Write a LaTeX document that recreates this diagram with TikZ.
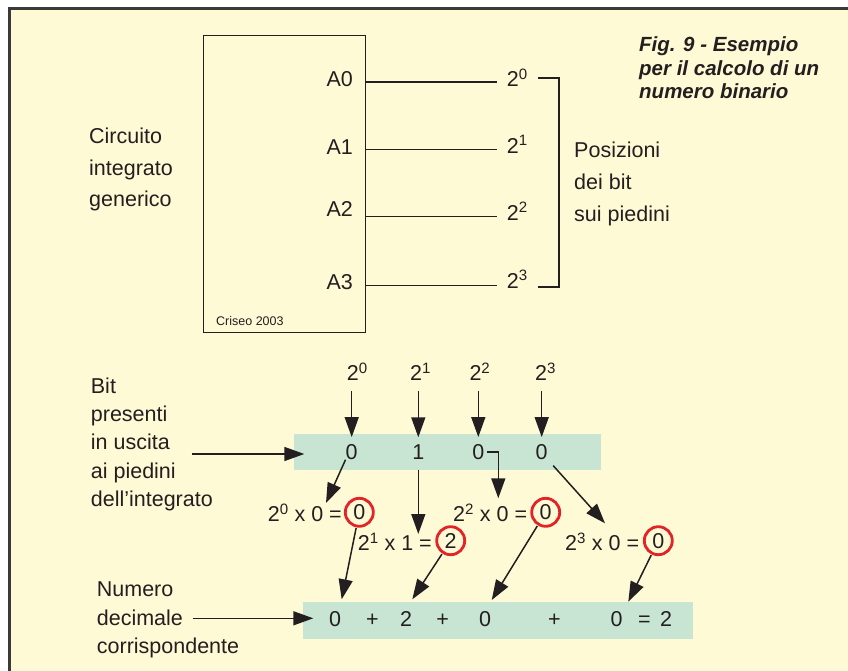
\documentclass[tikz,border=0pt]{standalone}
\usepackage{fontspec}
\setmainfont{Liberation Sans}
\usetikzlibrary{positioning, calc, arrows.meta}

\definecolor{paper}{RGB}{255,250,214}
\definecolor{frameline}{RGB}{58,58,58}
\definecolor{ink}{RGB}{35,31,32}
\definecolor{bandfill}{RGB}{200,229,212}
\definecolor{ringred}{RGB}{226,35,40}

\begin{document}
\begin{tikzpicture}[
  x=1pt, y=-1pt,
  text=ink,
  font=\fontsize{21.5}{28}\selectfont,
  label/.style={inner sep=0pt, align=left},
  wire/.style={draw=ink, line width=1.4pt},
  arr/.style={draw=ink, line width=1.5pt, -{Triangle[length=20pt, width=14pt]}},
  drop/.style={arr, shorten <=10pt, shorten >=7pt},
  band/.style={fill=bandfill, inner sep=0pt, anchor=north west},
  digit/.style={inner sep=0pt, anchor=base},
  result/.style={
    circle,
    draw=ringred,
    line width=2.8pt,
    minimum size=28pt,
    inner sep=0pt,
    outer sep=2pt,
  },
]
\useasboundingbox (0,0) rectangle (848,671);
% --- Frame ---
\fill[paper] (9.5,8.5) rectangle (850,673);
\draw[frameline, line width=3pt] (9.5,673) -- (9.5,8.5) -- (850,8.5);

% --- Chip ---
\node[draw=ink, line width=1.3pt, minimum width=162, minimum height=297,
      anchor=north west, inner sep=0pt] (Chip) at (203,35) {};
\node[inner sep=0pt, anchor=base west, font=\fontsize{12.5}{15}\selectfont]
  (Credit) at (216,325) {Criseo 2003};
% base of a multi-line label = its last line
\node[label, anchor=base west, font=\fontsize{21.5}{31.5}\selectfont]
  (ChipText) at (89,207) {Circuito\\integrato\\generico};

% pin names and bit weights
\node[digit, anchor=base east] (A0) at (353,86.7) {A0};
\node[digit, anchor=base east] (A1) at (353,155) {A1};
\node[digit, anchor=base east] (A2) at (353,216.7) {A2};
\node[digit, anchor=base east] (A3) at (353,289.3) {A3};
\node[digit, anchor=base west] (W0) at (506.7,86.7) {2\textsuperscript{0}};
\node[digit, anchor=base west] (W1) at (506.7,153.3) {2\textsuperscript{1}};
\node[digit, anchor=base west] (W2) at (506.7,220) {2\textsuperscript{2}};
\node[digit, anchor=base west] (W3) at (506.7,288.3) {2\textsuperscript{3}};
\coordinate (Pin0) at (496.7,82);
\coordinate (Pin1) at (496.7,149.3);
\coordinate (Pin2) at (496.7,216.7);
\coordinate (Pin3) at (496.7,285.7);
\draw[wire] (Pin0 -| Chip.east) -- (Pin0);
\draw[wire] (Pin1 -| Chip.east) -- (Pin1);
\draw[wire] (Pin2 -| Chip.east) -- (Pin2);
\draw[wire] (Pin3 -| Chip.east) -- (Pin3);

% bracket round the weights
\coordinate (BracketTop) at (538,78);
\coordinate (BracketBot) at (538,287);
\draw[wire] (BracketTop) -- ++(21,0) |- (BracketBot);
\node[label, anchor=base west, font=\fontsize{21.5}{31.5}\selectfont]
  (PosText) at (574,221) {Posizioni\\dei bit\\sui piedini};

% --- Caption ---
\node[label, anchor=base west, font=\fontsize{20.5}{23.5}\selectfont\bfseries\itshape]
  (Caption) at (639,98.7) {Fig. 9 - Esempio\\per il calcolo di un\\numero binario};

% --- Bits on the pins ---
\node[label, anchor=base west, font=\fontsize{21.5}{28.3}\selectfont]
  (BitText) at (90.7,506.5) {Bit\\presenti\\in uscita\\ai piedini\\dell’integrato};
\node[band, minimum width=307.4, minimum height=36] (Bits) at (293.3,433.3) {};
\node[digit, anchor=base west] (T0) at (346.7,380.7) {2\textsuperscript{0}};
\node[digit, anchor=base west] (T1) at (410,380.7) {2\textsuperscript{1}};
\node[digit, anchor=base west] (T2) at (469.3,380.7) {2\textsuperscript{2}};
\node[digit, anchor=base west] (T3) at (535,380.7) {2\textsuperscript{3}};
\node[digit] (B0) at (351.7,459.3) {0};
\node[digit] (B1) at (418.3,459.3) {1};
\node[digit] (B2) at (478.3,459.3) {0};
\node[digit] (B3) at (541.7,459.3) {0};
\draw[drop] (T0.south -| B0) -- (B0.north);
\draw[drop] (T1.south -| B1) -- (B1.north);
\draw[drop] (T2.south -| B2) -- (B2.north);
\draw[drop] (T3.south -| B3) -- (B3.north);
\coordinate (BitsFrom) at (191.7,454);
\draw[arr] (BitsFrom) -- ($(Bits.west |- BitsFrom)+(11,0)$);

% --- Products ---
\node[digit, anchor=base east] (Eq0) at (342,521.7) {2\textsuperscript{0} x 0 =};
\node[digit, anchor=base east] (Eq1) at (432,550.7) {2\textsuperscript{1} x 1 =};
\node[digit, anchor=base east] (Eq2) at (527.3,521.7) {2\textsuperscript{2} x 0 =};
\node[digit, anchor=base east] (Eq3) at (639.3,550.7) {2\textsuperscript{3} x 0 =};
\node[result] (R0) at (359.3,512.3) {0};
\node[result] (R1) at (450.7,540.7) {2};
\node[result] (R2) at (545.7,512.3) {0};
\node[result] (R3) at (658.3,540.7) {0};
\coordinate (Hit0) at (326,503);
\coordinate (Hit1) at (418.3,534);
\coordinate (Hit2) at (498.3,498.3);
\coordinate (Hit3) at (605,523.3);
\draw[arr] (B0.south west) -- (Hit0);
\draw[arr, shorten <=10pt] (B1.south) -- (Hit1);
\draw[arr, shorten <=3pt] (B2.east) -| (Hit2);
\draw[arr, shorten <=8pt] (B3.south east) -- (Hit3);

% --- Decimal sum ---
\node[label, anchor=base west, font=\fontsize{21.5}{28.3}\selectfont]
  (SumText) at (96.7,653.3) {Numero\\decimale\\corrispondente};
\node[band, minimum width=390.4, minimum height=36.6] (Sum) at (302.3,601.7) {};
\node[digit] (S0) at (335,626.7) {0};
\node[digit] (Plus1) at (372.3,626.7) {+};
\node[digit] (S1) at (406,626.7) {2};
\node[digit] (Plus2) at (442.7,626.7) {+};
\node[digit] (S2) at (485,626.7) {0};
\node[digit] (Plus3) at (554.3,626.7) {+};
\node[digit] (S3) at (616.7,626.7) {0};
\node[digit] (Equals) at (644.3,626.7) {=};
\node[digit] (Total) at (666,626.7) {2};
\coordinate (HitS0) at (341.7,599.3);
\coordinate (HitS1) at (412.3,599.3);
\coordinate (HitS2) at (491.7,600);
\coordinate (HitS3) at (628.3,601.7);
\draw[arr] (R0) -- (HitS0);
\draw[arr] (R1) -- (HitS1);
\draw[arr] (R2) -- (HitS2);
\draw[arr] (R3) -- (HitS3);
\coordinate (SumFrom) at (192.7,618.3);
\draw[arr] (SumFrom) -- ($(Sum.west |- SumFrom)+(11,0)$);
\end{tikzpicture}
\end{document}
